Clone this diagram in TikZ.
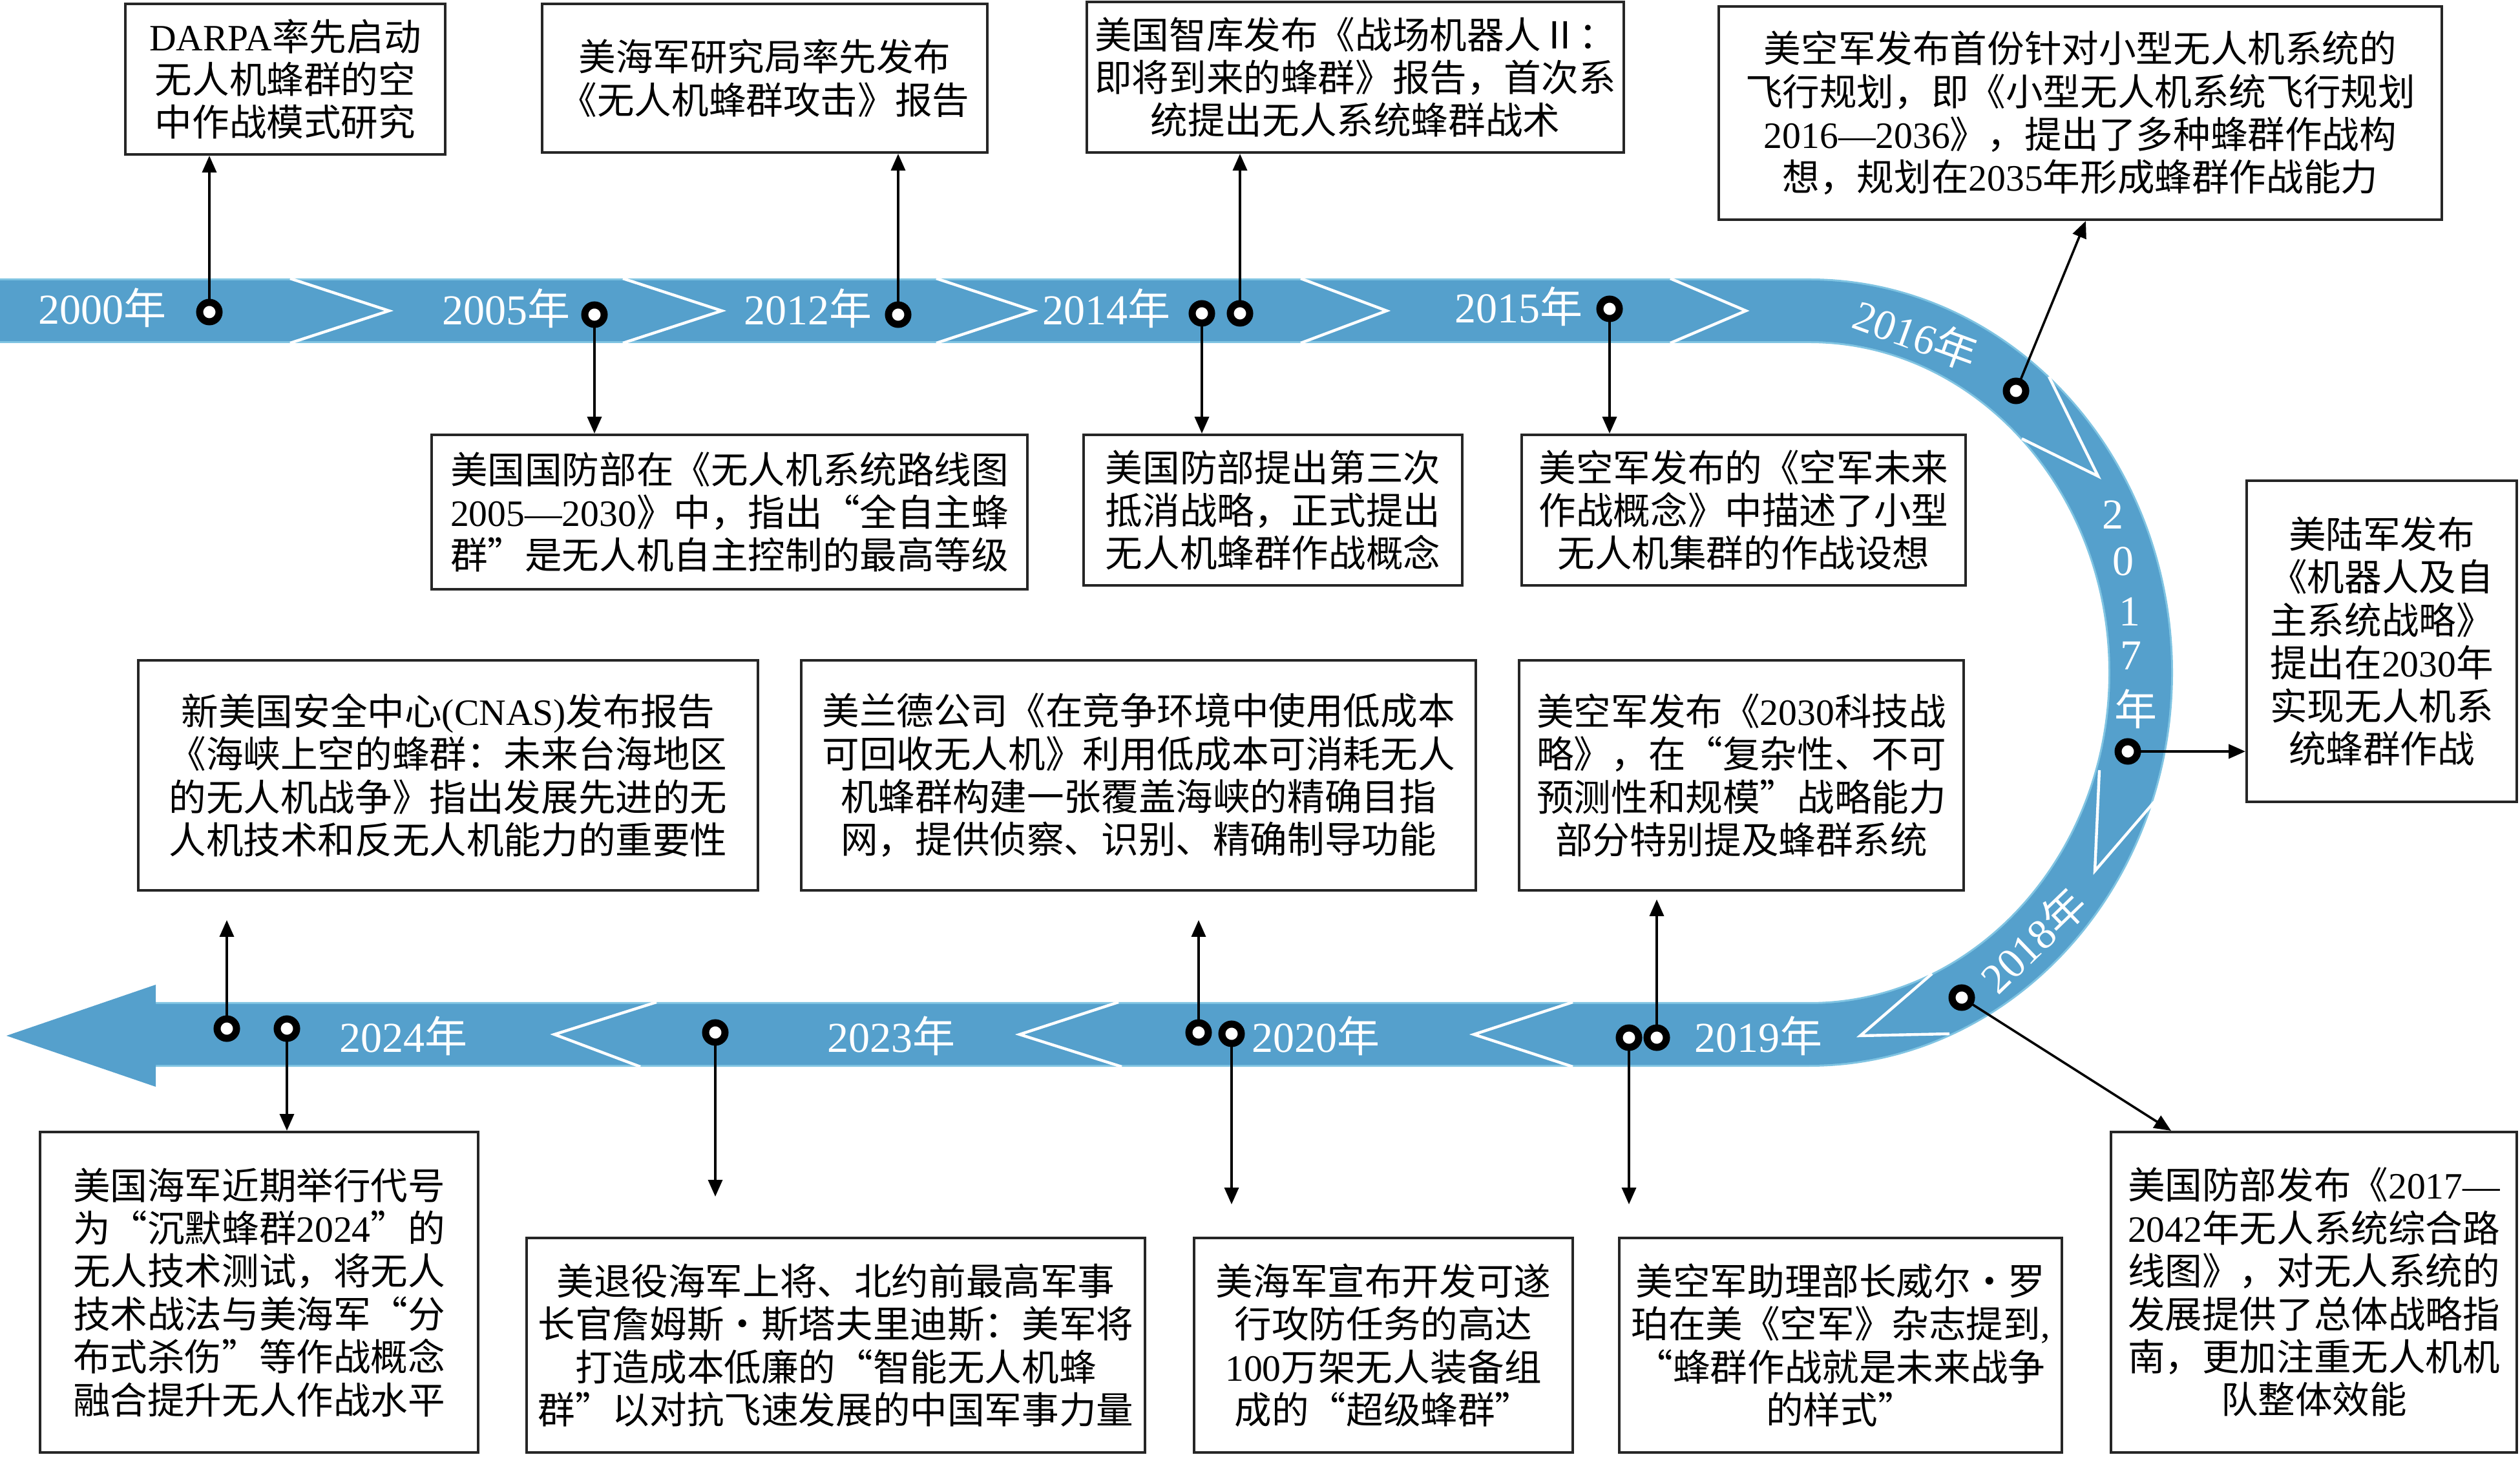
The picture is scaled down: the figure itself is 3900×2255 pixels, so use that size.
\documentclass[tikz,border=0pt]{standalone}
\usepackage{fontspec}
\setmainfont{Liberation Serif}
\newfontfamily\cjkfam{Noto Sans CJK SC}[RawFeature=+fwid]
\usetikzlibrary{arrows.meta}
\definecolor{bandblue}{RGB}{85,160,204}
\definecolor{bandedge}{RGB}{128,196,226}
\newcount\cjkcnt
\def\setcjkrange#1#2{\cjkcnt=#1\relax
  \loop\XeTeXcharclass\cjkcnt=1 \advance\cjkcnt by 1 \ifnum\cjkcnt<#2\relax\repeat}
\setcjkrange{"4E00}{"A000}
\setcjkrange{"3000}{"3040}
\setcjkrange{"FF00}{"FFF0}
\XeTeXcharclass"201C=1
\XeTeXcharclass"201D=1
\XeTeXcharclass"00B7=1
\XeTeXcharclass"2161=1
\XeTeXinterchartoks 0 1 = {\cjkfam}
\XeTeXinterchartoks 4095 1 = {\cjkfam}
\XeTeXinterchartoks 1 0 = {\rmfamily}
\XeTeXinterchartoks 1 4095 = {\rmfamily}
\tikzset{
  box/.style={draw=black!85, line width=1pt, fill=white, align=center, inner sep=0pt,
    font=\fontsize{14.4pt}{16.6pt}\selectfont},
  bx/.style 2 args={minimum width=0.25pt*#1, minimum height=0.25pt*#2},
  yr/.style={text=white, inner sep=0pt, font=\fontsize{16.5pt}{18pt}\selectfont},
  dotm/.style={circle, draw=black, fill=white, line width=2.75pt, inner sep=0pt, minimum size=7.5pt},
  conn/.style={draw=black, line width=0.9pt, -{Triangle[length=6.5pt,width=5.5pt]}},
  chev/.style={draw=white, line width=1.1pt, line join=miter},
  bandpath/.style={line cap=butt}
}
\begin{document}
\XeTeXinterchartokenstate=1
\begin{tikzpicture}[x=0.25pt,y=-0.25pt]
\useasboundingbox (0,0) rectangle (3900,2255);
% ---- band ----
\draw[bandedge, line width=25pt, bandpath] (0,481) -- (2800,481)
  arc[start angle=-90,end angle=90,x radius=513,y radius=560] -- (238,1601);
\draw[bandblue, line width=23.5pt, bandpath] (0,481) -- (2800,481)
  arc[start angle=-90,end angle=90,x radius=513,y radius=560] -- (238,1601);
\fill[bandblue] (241,1524) -- (10,1603) -- (241,1682) -- cycle;
% ---- chevrons ----
\draw[chev] (449,431) -- (602,481) -- (449,531);
\draw[chev] (964,431) -- (1117,481) -- (964,531);
\draw[chev] (1449,431) -- (1600,481) -- (1449,531);
\draw[chev] (2013,431) -- (2146,481) -- (2013,531);
\draw[chev] (2585,431) -- (2702,481) -- (2585,531);
\draw[chev] (3171,583) -- (3247,737) -- (3129,679);
\draw[chev] (3334,1241) -- (3242,1348) -- (3249,1192);
\draw[chev] (2990,1507) -- (2879,1603) -- (3017,1600);
\draw[chev] (2434,1551) -- (2281,1601) -- (2434,1651);
\draw[chev] (1731,1551) -- (1578,1601) -- (1736,1651);
\draw[chev] (1016,1551) -- (858,1601) -- (991,1651);
% ---- year labels ----
\node[yr, anchor=base] (y2000) at (158,502) {2000年};
\node[yr, anchor=base] (y2005) at (783,503) {2005年};
\node[yr, anchor=base] (y2012) at (1250,503) {2012年};
\node[yr, anchor=base] (y2014) at (1712,503) {2014年};
\node[yr, anchor=base] (y2015) at (2350,500) {2015年};
\node[yr, rotate=-20] (y2016) at (2965,517) {2016年};
\node[yr] (y17a) at (3270,797) {2};
\node[yr] (y17b) at (3286,869) {0};
\node[yr] (y17c) at (3296,947) {1};
\node[yr] (y17d) at (3298,1015) {7};
\node[yr] (y17e) at (3305,1097) {年};
\node[yr, rotate=44] (y2018) at (3146,1455) {2018年};
\node[yr, anchor=base] (y2019) at (2721,1628) {2019年};
\node[yr, anchor=base] (y2020) at (2036,1628) {2020年};
\node[yr, anchor=base] (y2023) at (1379,1628) {2023年};
\node[yr, anchor=base] (y2024) at (624,1628) {2024年};
% ---- boxes ----
\node[box, bx={495}{233}] (b1) at (441.5,122.5) {DARPA率先启动\\无人机蜂群的空\\中作战模式研究};
\node[box, bx={689}{230}] (b2) at (1183.5,121) {美海军研究局率先发布\\《无人机蜂群攻击》报告};
\node[box, bx={831}{233}] (b3) at (2097.5,119.5) {美国智库发布《战场机器人Ⅱ：\\即将到来的蜂群》报告，首次系\\统提出无人系统蜂群战术};
\node[box, bx={1119}{330}] (b4) at (3219.5,175) {美空军发布首份针对小型无人机系统的\\飞行规划，即《小型无人机系统飞行规划\\2016—2036》，提出了多种蜂群作战构\\想，规划在2035年形成蜂群作战能力};
\node[box, bx={922}{239}] (b5) at (1129,792.5) {美国国防部在《无人机系统路线图\\2005—2030》中，指出“全自主蜂\\群”是无人机自主控制的最高等级};
\node[box, bx={586}{233}] (b6) at (1970,789.5) {美国防部提出第三次\\抵消战略，正式提出\\无人机蜂群作战概念};
\node[box, bx={687}{233}] (b7) at (2698.5,789.5) {美空军发布的《空军未来\\作战概念》中描述了小型\\无人机集群的作战设想};
\node[box, bx={418}{497}] (b8) at (3686,992.5) {美陆军发布\\《机器人及自\\主系统战略》\\提出在2030年\\实现无人机系\\统蜂群作战};
\node[box, bx={959}{356}] (b9) at (693.5,1200) {新美国安全中心(CNAS)发布报告\\《海峡上空的蜂群：未来台海地区\\的无人机战争》指出发展先进的无\\人机技术和反无人机能力的重要性};
\node[box, bx={1044}{356}] (b10) at (1762,1200) {美兰德公司《在竞争环境中使用低成本\\可回收无人机》利用低成本可消耗无人\\机蜂群构建一张覆盖海峡的精确目指\\网，提供侦察、识别、精确制导功能};
\node[box, bx={688}{356}] (b11) at (2695,1200) {美空军发布《2030科技战\\略》，在“复杂性、不可\\预测性和规模”战略能力\\部分特别提及蜂群系统};
\node[box, bx={678}{496}] (b12) at (401,2000) {美国海军近期举行代号\\为“沉默蜂群2024”的\\无人技术测试，将无人\\技术战法与美海军“分\\布式杀伤”等作战概念\\融合提升无人作战水平};
\node[box, bx={957}{332}] (b13) at (1293.5,2082) {美退役海军上将、北约前最高军事\\长官詹姆斯·斯塔夫里迪斯：美军将\\打造成本低廉的“智能无人机蜂\\群”以对抗飞速发展的中国军事力量};
\node[box, bx={586}{332}] (b14) at (2141,2082) {美海军宣布开发可遂\\行攻防任务的高达\\100万架无人装备组\\成的“超级蜂群”};
\node[box, bx={685}{332}] (b15) at (2848.5,2082) {美空军助理部长威尔·罗\\珀在美《空军》杂志提到,\\“蜂群作战就是未来战争\\的样式”};
\node[box, bx={628}{496}] (b16) at (3581,2000) {美国防部发布《2017—\\2042年无人系统综合路\\线图》，对无人系统的\\发展提供了总体战略指\\南，更加注重无人机机\\队整体效能};
% ---- anchor points ----
\coordinate (p2000) at (324,483);
\coordinate (p2005) at (920,487);
\coordinate (p2012) at (1390,487);
\coordinate (p2014a) at (1860,485);
\coordinate (p2014b) at (1919,485);
\coordinate (p2015) at (2491,478);
\coordinate (p2016) at (3120,605);
\coordinate (p2017) at (3293,1163);
\coordinate (p2018) at (3036,1544);
\coordinate (p2019a) at (2521,1606);
\coordinate (p2019b) at (2564,1606);
\coordinate (p2020a) at (1855,1598);
\coordinate (p2020b) at (1906,1600);
\coordinate (p2023) at (1107,1598);
\coordinate (p2024a) at (351,1592);
\coordinate (p2024b) at (444,1592);
\coordinate (x2016) at (3228,0);
\coordinate (x2018) at (3360,0);
\coordinate (e9) at (351,1424);
\coordinate (e10) at (1855,1424);
\coordinate (e11) at (2564,1392);
\coordinate (e13) at (1107,1852);
\coordinate (e14) at (1906,1864);
\coordinate (e15) at (2521,1864);
% ---- connectors ----
\draw[conn] (p2000) -- (p2000 |- b1.south);
\draw[conn] (p2012) -- (p2012 |- b2.south);
\draw[conn] (p2014b) -- (p2014b |- b3.south);
\draw[conn] (p2016) -- (b4.south -| x2016);
\draw[conn] (p2005) -- (p2005 |- b5.north);
\draw[conn] (p2014a) -- (p2014a |- b6.north);
\draw[conn] (p2015) -- (p2015 |- b7.north);
\draw[conn] (p2017) -- (b8.west |- p2017);
\draw[conn] (p2024a) -- (e9);
\draw[conn] (p2020a) -- (e10);
\draw[conn] (p2019b) -- (e11);
\draw[conn] (p2024b) -- (p2024b |- b12.north);
\draw[conn] (p2023) -- (e13);
\draw[conn] (p2020b) -- (e14);
\draw[conn] (p2019a) -- (e15);
\draw[conn] (p2018) -- (b16.north -| x2018);
% ---- dots ----
\foreach \p in {2000,2005,2012,2014a,2014b,2015,2016,2017,2018,2019a,2019b,2020a,2020b,2023,2024a,2024b}
  \node[dotm] (d\p) at (p\p) {};
\end{tikzpicture}
\end{document}
